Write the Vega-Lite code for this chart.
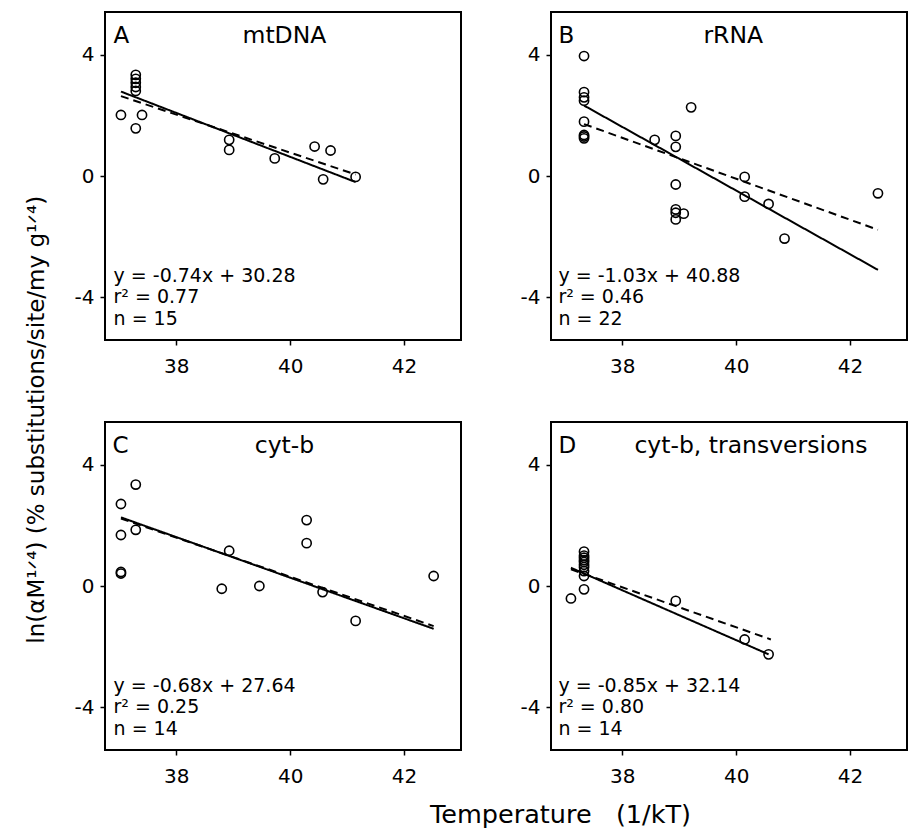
{
  "$schema": "https://vega.github.io/schema/vega-lite/v6.json",
  "background": "white",
  "padding": {"left": 26, "top": 11, "right": 0, "bottom": 0},
  "title": {"text": "ln(αM¹ᐟ⁴) (% substitutions/site/my g¹ᐟ⁴)", "orient": "left", "anchor": "middle", "fontSize": 23, "fontWeight": "normal", "font": "DejaVu Sans", "color": "black", "offset": 24},
  "datasets": {
    "pts": [
      {"panel": "A", "x": 37.03, "y": 2.01}, {"panel": "A", "x": 37.29, "y": 1.57}, {"panel": "A", "x": 37.40, "y": 2.01},
      {"panel": "A", "x": 37.29, "y": 3.33}, {"panel": "A", "x": 37.29, "y": 3.20}, {"panel": "A", "x": 37.29, "y": 3.07},
      {"panel": "A", "x": 37.29, "y": 2.93}, {"panel": "A", "x": 37.29, "y": 2.80}, {"panel": "A", "x": 38.93, "y": 1.19},
      {"panel": "A", "x": 38.93, "y": 0.86}, {"panel": "A", "x": 39.73, "y": 0.58}, {"panel": "A", "x": 40.43, "y": 0.97},
      {"panel": "A", "x": 40.71, "y": 0.84}, {"panel": "A", "x": 40.58, "y": -0.11}, {"panel": "A", "x": 41.15, "y": -0.03},
      {"panel": "B", "x": 37.33, "y": 3.95}, {"panel": "B", "x": 37.33, "y": 2.76}, {"panel": "B", "x": 37.33, "y": 2.59},
      {"panel": "B", "x": 37.33, "y": 2.48}, {"panel": "B", "x": 37.33, "y": 1.79}, {"panel": "B", "x": 37.33, "y": 1.35},
      {"panel": "B", "x": 37.33, "y": 1.24}, {"panel": "B", "x": 37.33, "y": 1.30}, {"panel": "B", "x": 38.57, "y": 1.19},
      {"panel": "B", "x": 38.94, "y": 1.32}, {"panel": "B", "x": 38.94, "y": 0.96}, {"panel": "B", "x": 38.94, "y": -0.28},
      {"panel": "B", "x": 38.94, "y": -1.10}, {"panel": "B", "x": 38.94, "y": -1.21}, {"panel": "B", "x": 38.94, "y": -1.43},
      {"panel": "B", "x": 39.08, "y": -1.24}, {"panel": "B", "x": 39.21, "y": 2.26}, {"panel": "B", "x": 40.15, "y": -0.03},
      {"panel": "B", "x": 40.15, "y": -0.68}, {"panel": "B", "x": 40.57, "y": -0.92}, {"panel": "B", "x": 40.85, "y": -2.06},
      {"panel": "B", "x": 42.49, "y": -0.57},
      {"panel": "C", "x": 37.03, "y": 2.70}, {"panel": "C", "x": 37.29, "y": 3.34}, {"panel": "C", "x": 37.03, "y": 1.68},
      {"panel": "C", "x": 37.29, "y": 1.85}, {"panel": "C", "x": 37.03, "y": 0.46}, {"panel": "C", "x": 37.03, "y": 0.41},
      {"panel": "C", "x": 38.93, "y": 1.16}, {"panel": "C", "x": 38.80, "y": -0.09}, {"panel": "C", "x": 39.46, "y": 0.0},
      {"panel": "C", "x": 40.29, "y": 2.17}, {"panel": "C", "x": 40.29, "y": 1.41}, {"panel": "C", "x": 40.57, "y": -0.20},
      {"panel": "C", "x": 41.15, "y": -1.15}, {"panel": "C", "x": 42.52, "y": 0.33},
      {"panel": "D", "x": 37.10, "y": -0.41}, {"panel": "D", "x": 37.33, "y": 1.13}, {"panel": "D", "x": 37.33, "y": 1.00},
      {"panel": "D", "x": 37.33, "y": 0.93}, {"panel": "D", "x": 37.33, "y": 0.85}, {"panel": "D", "x": 37.33, "y": 0.79},
      {"panel": "D", "x": 37.33, "y": 0.70}, {"panel": "D", "x": 37.33, "y": 0.62}, {"panel": "D", "x": 37.33, "y": 0.49},
      {"panel": "D", "x": 37.33, "y": 0.33}, {"panel": "D", "x": 37.33, "y": -0.11}, {"panel": "D", "x": 38.94, "y": -0.49},
      {"panel": "D", "x": 40.15, "y": -1.76}, {"panel": "D", "x": 40.57, "y": -2.25}
    ],
    "fits": [
      {"panel": "A", "fit": "solid", "x": 37.03, "y": 2.78}, {"panel": "A", "fit": "solid", "x": 41.15, "y": -0.20},
      {"panel": "A", "fit": "dashed", "x": 37.03, "y": 2.63}, {"panel": "A", "fit": "dashed", "x": 41.15, "y": 0.05},
      {"panel": "B", "fit": "solid", "x": 37.33, "y": 2.32}, {"panel": "B", "fit": "solid", "x": 42.49, "y": -3.09},
      {"panel": "B", "fit": "dashed", "x": 37.33, "y": 1.71}, {"panel": "B", "fit": "dashed", "x": 42.49, "y": -1.77},
      {"panel": "C", "fit": "solid", "x": 37.03, "y": 2.26}, {"panel": "C", "fit": "solid", "x": 42.52, "y": -1.41},
      {"panel": "C", "fit": "dashed", "x": 37.03, "y": 2.22}, {"panel": "C", "fit": "dashed", "x": 42.52, "y": -1.32},
      {"panel": "D", "fit": "solid", "x": 37.10, "y": 0.60}, {"panel": "D", "fit": "solid", "x": 40.57, "y": -2.25},
      {"panel": "D", "fit": "dashed", "x": 37.10, "y": 0.55}, {"panel": "D", "fit": "dashed", "x": 40.61, "y": -1.76}
    ],
    "labels": [
      {"panel": "A", "letter": "A", "name": "mtDNA", "eq": "y = -0.74x + 30.28\nr² = 0.77\nn = 15"},
      {"panel": "B", "letter": "B", "name": "rRNA", "eq": "y = -1.03x + 40.88\nr² = 0.46\nn = 22"},
      {"panel": "C", "letter": "C", "name": "cyt-b", "eq": "y = -0.68x + 27.64\nr² = 0.25\nn = 14"},
      {"panel": "D", "letter": "D", "name": "cyt-b, transversions", "eq": "y = -0.85x + 32.14\nr² = 0.80\nn = 14"}
    ]
  },
  "columns": 2,
  "spacing": {"row": 82, "column": 90},
  "bounds": "flush",
  "concat": [
    {
      "width": 356, "height": 328,
      "layer": [
        {"data": {"name": "fits"}, "transform": [{"filter": "datum.panel === 'A'"}],
         "mark": {"type": "line", "color": "black", "strokeWidth": 2},
         "encoding": {
           "x": {"field": "x", "type": "quantitative", "scale": {"domain": [36.75, 43], "nice": false, "zero": false}, "axis": {"values": [38, 40, 42], "title": null}},
           "y": {"field": "y", "type": "quantitative", "scale": {"domain": [-5.4, 5.4], "nice": false, "zero": false}, "axis": {"values": [-4, 0, 4], "title": null}},
           "strokeDash": {"field": "fit", "type": "nominal", "scale": {"domain": ["solid", "dashed"], "range": [[1, 0], [8, 5]]}, "legend": null}
         }},
        {"data": {"name": "pts"}, "transform": [{"filter": "datum.panel === 'A'"}],
         "mark": {"type": "point", "shape": "circle", "filled": false, "color": "black", "size": 85, "strokeWidth": 1.6, "opacity": 1},
         "encoding": {"x": {"field": "x", "type": "quantitative"}, "y": {"field": "y", "type": "quantitative"}}},
        {"data": {"name": "labels"}, "transform": [{"filter": "datum.panel === 'A'"}],
         "mark": {"type": "text", "align": "left", "baseline": "alphabetic", "fontSize": 23, "font": "DejaVu Sans", "color": "black"},
         "encoding": {"x": {"datum": 36.9}, "y": {"datum": 4.38}, "text": {"field": "letter"}}},
        {"data": {"name": "labels"}, "transform": [{"filter": "datum.panel === 'A'"}],
         "mark": {"type": "text", "align": "center", "baseline": "alphabetic", "fontSize": 23.5, "font": "DejaVu Sans", "color": "black"},
         "encoding": {"x": {"datum": 39.9}, "y": {"datum": 4.38}, "text": {"field": "name"}}},
        {"data": {"name": "labels"}, "transform": [{"filter": "datum.panel === 'A'"}],
         "mark": {"type": "text", "align": "left", "baseline": "alphabetic", "fontSize": 19, "font": "DejaVu Sans", "color": "black", "lineBreak": "\n", "lineHeight": 21.5},
         "encoding": {"x": {"datum": 36.9}, "y": {"datum": -3.49}, "text": {"field": "eq"}}}
      ]
    },
    {
      "width": 356, "height": 328,
      "layer": [
        {"data": {"name": "fits"}, "transform": [{"filter": "datum.panel === 'B'"}],
         "mark": {"type": "line", "color": "black", "strokeWidth": 2},
         "encoding": {
           "x": {"field": "x", "type": "quantitative", "scale": {"domain": [36.75, 43], "nice": false, "zero": false}, "axis": {"values": [38, 40, 42], "title": null}},
           "y": {"field": "y", "type": "quantitative", "scale": {"domain": [-5.4, 5.4], "nice": false, "zero": false}, "axis": {"values": [-4, 0, 4], "title": null}},
           "strokeDash": {"field": "fit", "type": "nominal", "scale": {"domain": ["solid", "dashed"], "range": [[1, 0], [8, 5]]}, "legend": null}
         }},
        {"data": {"name": "pts"}, "transform": [{"filter": "datum.panel === 'B'"}],
         "mark": {"type": "point", "shape": "circle", "filled": false, "color": "black", "size": 85, "strokeWidth": 1.6, "opacity": 1},
         "encoding": {"x": {"field": "x", "type": "quantitative"}, "y": {"field": "y", "type": "quantitative"}}},
        {"data": {"name": "labels"}, "transform": [{"filter": "datum.panel === 'B'"}],
         "mark": {"type": "text", "align": "left", "baseline": "alphabetic", "fontSize": 23, "font": "DejaVu Sans", "color": "black"},
         "encoding": {"x": {"datum": 36.88}, "y": {"datum": 4.38}, "text": {"field": "letter"}}},
        {"data": {"name": "labels"}, "transform": [{"filter": "datum.panel === 'B'"}],
         "mark": {"type": "text", "align": "center", "baseline": "alphabetic", "fontSize": 23.5, "font": "DejaVu Sans", "color": "black"},
         "encoding": {"x": {"datum": 39.95}, "y": {"datum": 4.38}, "text": {"field": "name"}}},
        {"data": {"name": "labels"}, "transform": [{"filter": "datum.panel === 'B'"}],
         "mark": {"type": "text", "align": "left", "baseline": "alphabetic", "fontSize": 19, "font": "DejaVu Sans", "color": "black", "lineBreak": "\n", "lineHeight": 21.5},
         "encoding": {"x": {"datum": 36.88}, "y": {"datum": -3.49}, "text": {"field": "eq"}}}
      ]
    },
    {
      "width": 356, "height": 328,
      "layer": [
        {"data": {"name": "fits"}, "transform": [{"filter": "datum.panel === 'C'"}],
         "mark": {"type": "line", "color": "black", "strokeWidth": 2},
         "encoding": {
           "x": {"field": "x", "type": "quantitative", "scale": {"domain": [36.75, 43], "nice": false, "zero": false},
                 "axis": {"values": [38, 40, 42], "title": "Temperature\u00a0\u00a0\u00a0(1/kT)", "titleX": 455, "titleY": 72, "titleAnchor": "middle", "titleAlign": "center", "titleBaseline": "alphabetic", "titleFontSize": 25.5}},
           "y": {"field": "y", "type": "quantitative", "scale": {"domain": [-5.4, 5.4], "nice": false, "zero": false}, "axis": {"values": [-4, 0, 4], "title": null}},
           "strokeDash": {"field": "fit", "type": "nominal", "scale": {"domain": ["solid", "dashed"], "range": [[1, 0], [8, 5]]}, "legend": null}
         }},
        {"data": {"name": "pts"}, "transform": [{"filter": "datum.panel === 'C'"}],
         "mark": {"type": "point", "shape": "circle", "filled": false, "color": "black", "size": 85, "strokeWidth": 1.6, "opacity": 1},
         "encoding": {"x": {"field": "x", "type": "quantitative"}, "y": {"field": "y", "type": "quantitative"}}},
        {"data": {"name": "labels"}, "transform": [{"filter": "datum.panel === 'C'"}],
         "mark": {"type": "text", "align": "left", "baseline": "alphabetic", "fontSize": 23, "font": "DejaVu Sans", "color": "black"},
         "encoding": {"x": {"datum": 36.88}, "y": {"datum": 4.38}, "text": {"field": "letter"}}},
        {"data": {"name": "labels"}, "transform": [{"filter": "datum.panel === 'C'"}],
         "mark": {"type": "text", "align": "center", "baseline": "alphabetic", "fontSize": 23.5, "font": "DejaVu Sans", "color": "black"},
         "encoding": {"x": {"datum": 39.9}, "y": {"datum": 4.38}, "text": {"field": "name"}}},
        {"data": {"name": "labels"}, "transform": [{"filter": "datum.panel === 'C'"}],
         "mark": {"type": "text", "align": "left", "baseline": "alphabetic", "fontSize": 19, "font": "DejaVu Sans", "color": "black", "lineBreak": "\n", "lineHeight": 21.5},
         "encoding": {"x": {"datum": 36.9}, "y": {"datum": -3.49}, "text": {"field": "eq"}}}
      ]
    },
    {
      "width": 356, "height": 328,
      "layer": [
        {"data": {"name": "fits"}, "transform": [{"filter": "datum.panel === 'D'"}],
         "mark": {"type": "line", "color": "black", "strokeWidth": 2},
         "encoding": {
           "x": {"field": "x", "type": "quantitative", "scale": {"domain": [36.75, 43], "nice": false, "zero": false}, "axis": {"values": [38, 40, 42], "title": null}},
           "y": {"field": "y", "type": "quantitative", "scale": {"domain": [-5.4, 5.4], "nice": false, "zero": false}, "axis": {"values": [-4, 0, 4], "title": null}},
           "strokeDash": {"field": "fit", "type": "nominal", "scale": {"domain": ["solid", "dashed"], "range": [[1, 0], [8, 5]]}, "legend": null}
         }},
        {"data": {"name": "pts"}, "transform": [{"filter": "datum.panel === 'D'"}],
         "mark": {"type": "point", "shape": "circle", "filled": false, "color": "black", "size": 85, "strokeWidth": 1.6, "opacity": 1},
         "encoding": {"x": {"field": "x", "type": "quantitative"}, "y": {"field": "y", "type": "quantitative"}}},
        {"data": {"name": "labels"}, "transform": [{"filter": "datum.panel === 'D'"}],
         "mark": {"type": "text", "align": "left", "baseline": "alphabetic", "fontSize": 23, "font": "DejaVu Sans", "color": "black"},
         "encoding": {"x": {"datum": 36.88}, "y": {"datum": 4.38}, "text": {"field": "letter"}}},
        {"data": {"name": "labels"}, "transform": [{"filter": "datum.panel === 'D'"}],
         "mark": {"type": "text", "align": "center", "baseline": "alphabetic", "fontSize": 23.5, "font": "DejaVu Sans", "color": "black"},
         "encoding": {"x": {"datum": 40.26}, "y": {"datum": 4.38}, "text": {"field": "name"}}},
        {"data": {"name": "labels"}, "transform": [{"filter": "datum.panel === 'D'"}],
         "mark": {"type": "text", "align": "left", "baseline": "alphabetic", "fontSize": 19, "font": "DejaVu Sans", "color": "black", "lineBreak": "\n", "lineHeight": 21.5},
         "encoding": {"x": {"datum": 36.88}, "y": {"datum": -3.49}, "text": {"field": "eq"}}}
      ]
    }
  ],
  "config": {
    "view": {"stroke": "black", "strokeWidth": 2, "fill": "white"},
    "axis": {"domain": false, "grid": false, "tickColor": "black", "tickSize": 5, "tickWidth": 1.5,
             "labelExpr": "'' + datum.value",
             "labelFont": "DejaVu Sans", "labelFontSize": 20, "labelColor": "black",
             "titleFont": "DejaVu Sans", "titleFontSize": 23, "titleFontWeight": "normal", "titleColor": "black"},
    "axisX": {"labelPadding": 11},
    "axisY": {"labelPadding": 6}
  }
}
